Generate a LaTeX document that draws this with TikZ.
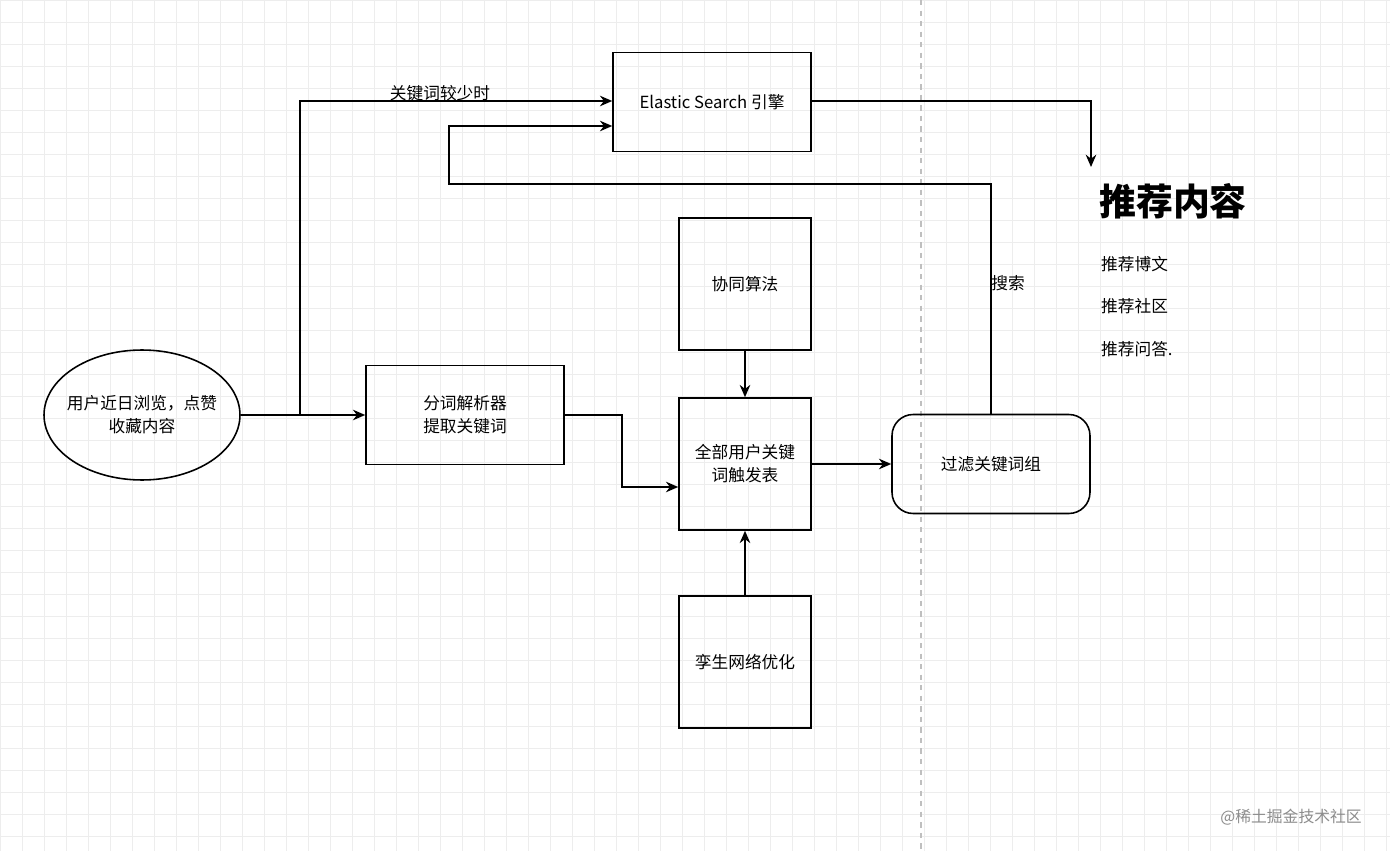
\documentclass[tikz,border=0pt]{standalone}
\usepackage{fontspec}
\setmainfont{Noto Sans CJK SC}
\usetikzlibrary{shapes.geometric,arrows.meta}
\begin{document}
\begin{tikzpicture}[x=0.02cm,y=-0.02cm,
  box/.style={draw,line width=0.9pt,minimum width=3.96cm,minimum height=1.98cm,font=\fontsize{9.5}{13}\selectfont,align=center,inner sep=0},
  sq/.style={draw,line width=0.9pt,minimum width=2.64cm,minimum height=2.64cm,font=\fontsize{9.5}{13}\selectfont,align=center,inner sep=0},
  conn/.style={line width=0.9pt,-{Stealth[length=7pt,width=6pt]}},
  lbl/.style={font=\fontsize{9.5}{12}\selectfont}]
\useasboundingbox (0,0) rectangle (1390,851);
\fill[white] (0,0) rectangle (1390,851);
\foreach \x in {0,22,...,1390} \draw[black!7,line width=0.4pt] (\x,0) -- (\x,851);
\foreach \y in {0,22,...,851} \draw[black!7,line width=0.4pt] (0,\y) -- (1390,\y);
\draw[black!25,dashed,line width=0.6pt] (921,0) -- (921,851);
\node[draw,ellipse,line width=0.9pt,minimum width=3.92cm,minimum height=2.6cm,inner sep=0] (u) at (142,415) {};
\node[font=\fontsize{9.5}{13}\selectfont,align=center,inner sep=0] at (u.center) {用户近日浏览，点赞\\收藏内容};
\node[box] (p) at (465,415) {分词解析器\\提取关键词};
\node[box] (es) at (712,102) {Elastic Search 引擎};
\node[sq] (xt) at (745,284) {协同算法};
\node[sq] (all) at (745,464) {全部用户关键\\词触发表};
\node[sq] (lw) at (745,662) {孪生网络优化};
\node[box,rounded corners=12pt] (f) at (991,464) {过滤关键词组};
\coordinate (j) at (300,415);
\draw[conn] (u.east) -- (p.west);
\draw[conn] (j) |- (es.west |- 0,101);
\node[lbl] at (440,93) {关键词较少时};
\draw[conn] (p.east) -- (622,415) |- (all.west |- 0,487);
\draw[conn] (xt) -- (all);
\draw[conn] (lw) -- (all);
\draw[conn] (all) -- (f);
\draw[conn] (f.north) -- (991,184) -- (449,184) |- (es.west |- 0,126);
\node[lbl] at (1008,283) {搜索};
\coordinate (r) at (1091,167);
\draw[conn] (es.east |- 0,101) -| (r);
\node[anchor=west,font=\fontsize{21}{24}\selectfont\bfseries] (h) at (1093,201) {推荐内容};
\node[anchor=west,lbl] at (1095,264) {推荐博文};
\node[anchor=west,lbl] at (1095,306) {推荐社区};
\node[anchor=west,lbl] at (1095,349) {推荐问答.};
\node[anchor=east,font=\fontsize{9}{11}\selectfont,text=black!45] at (1368,817) {@稀土掘金技术社区};
\end{tikzpicture}
\end{document}
